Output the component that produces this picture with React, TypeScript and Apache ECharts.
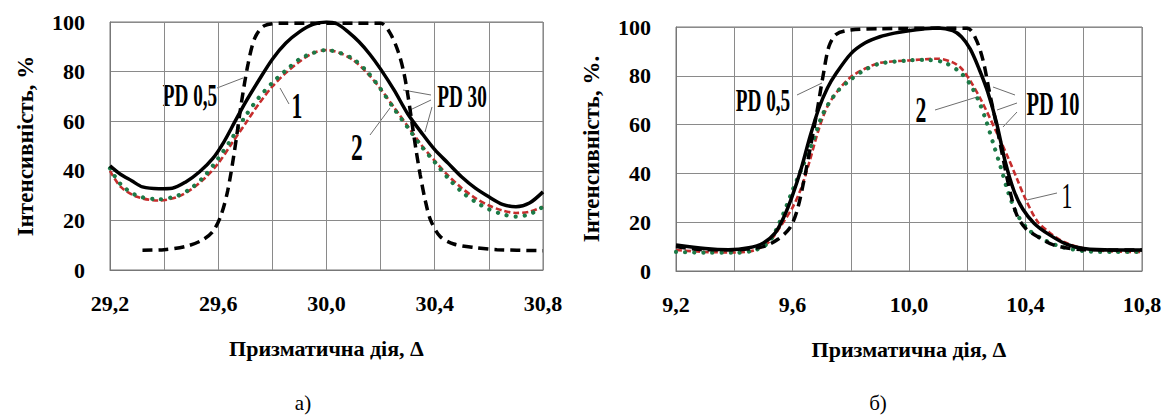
import React, { useEffect, useRef } from "react";
import * as echarts from "echarts";

const FONT = "Times";

// ---- panel а) : prism dioptre 29.2 … 30.8 ----
const aRange = [29.2, 30.8];
const aTickLabels = [29.2, 29.6, 30.0, 30.4, 30.8];

const aBlackSolid: [number, number][] = [
  [29.2, 42], [29.24, 38.5], [29.28, 36], [29.32, 33.5], [29.38, 32.8], [29.43, 33],
  [29.48, 35.5], [29.53, 39.5], [29.58, 45], [29.62, 51.5], [29.66, 59.5], [29.7, 67.5],
  [29.75, 76.5], [29.8, 85], [29.85, 91.5], [29.9, 96], [29.95, 99], [30.0, 100],
  [30.04, 99.2], [30.08, 96], [30.12, 92], [30.16, 87], [30.2, 81], [30.25, 72.5],
  [30.3, 63], [30.35, 55.5], [30.4, 48.5], [30.45, 43], [30.5, 37.5], [30.55, 33],
  [30.6, 29.5], [30.65, 26.5], [30.7, 25.5], [30.75, 27], [30.8, 31.5],
];

const aBlackDashed: [number, number][] = [
  [29.32, 8], [29.4, 8.2], [29.48, 9.5], [29.54, 12], [29.58, 15.5], [29.61, 22],
  [29.635, 32], [29.66, 48], [29.685, 67], [29.71, 83], [29.735, 93.5], [29.77, 98.5],
  [29.84, 99.5], [30.2, 99.5], [30.235, 95.5], [30.265, 88], [30.285, 80], [30.3, 71],
  [30.315, 60], [30.33, 49], [30.346, 38.5], [30.365, 28], [30.385, 20], [30.42, 13.5],
  [30.47, 10.5], [30.55, 9], [30.63, 8.2], [30.8, 7.8],
];

const aRedDashed: [number, number][] = [
  [29.2, 40], [29.24, 33.5], [29.3, 29.5], [29.38, 28], [29.45, 29.5], [29.5, 32.5],
  [29.55, 37], [29.6, 43], [29.65, 51], [29.7, 59], [29.75, 67], [29.8, 74],
  [29.85, 79.5], [29.9, 84], [29.95, 87.5], [30.0, 88.7], [30.05, 87.5], [30.1, 84.5],
  [30.15, 79.5], [30.2, 73], [30.25, 65.5], [30.3, 58], [30.35, 50.5], [30.4, 44],
  [30.45, 38], [30.5, 33], [30.55, 29], [30.6, 26], [30.65, 24], [30.7, 23],
  [30.75, 23.5], [30.8, 25.5],
];

const aGreenDotted: [number, number][] = [
  [29.2, 41], [29.24, 34.5], [29.3, 30], [29.38, 28.5], [29.45, 30], [29.5, 33],
  [29.55, 38], [29.6, 45], [29.65, 53], [29.7, 62], [29.75, 69.5], [29.8, 75.5],
  [29.85, 80.5], [29.9, 85], [29.95, 87.5], [30.0, 88.7], [30.05, 87.5], [30.1, 85],
  [30.15, 80], [30.2, 73], [30.25, 65], [30.3, 57.5], [30.35, 50], [30.4, 43.5],
  [30.45, 37], [30.5, 31.5], [30.55, 27.5], [30.6, 24.5], [30.65, 22.5], [30.7, 21.5],
  [30.75, 22.5], [30.8, 25.5],
];

// ---- panel б) : prism dioptre 9.2 … 10.8 ----
const bRange = [9.2, 10.8];
const bTickLabels = [9.2, 9.6, 10.0, 10.4, 10.8];

const bBlackSolid: [number, number][] = [
  [9.2, 10.7], [9.3, 9.2], [9.38, 8.7], [9.45, 9.5], [9.5, 11.5], [9.54, 15.5],
  [9.57, 22], [9.6, 31], [9.63, 42], [9.66, 55], [9.69, 66.5], [9.72, 75], [9.75, 81],
  [9.8, 89], [9.85, 93.5], [9.9, 96], [9.95, 97.5], [10.0, 98.5], [10.05, 99.2],
  [10.1, 99.6], [10.15, 98.5], [10.18, 96], [10.21, 91], [10.24, 83], [10.27, 73.5],
  [10.3, 61], [10.33, 45], [10.36, 33], [10.39, 25.5], [10.43, 19.5], [10.48, 15],
  [10.54, 11], [10.6, 9.2], [10.7, 8.6], [10.8, 8.6],
];

const bBlackDashed: [number, number][] = [
  [9.2, 10], [9.3, 8.7], [9.4, 8.7], [9.5, 10], [9.55, 13], [9.59, 17.5], [9.615, 24.5],
  [9.64, 37.5], [9.665, 53], [9.685, 66], [9.705, 80], [9.725, 92], [9.75, 97],
  [9.8, 98.8], [9.9, 99.3], [10.2, 99.5], [10.23, 95], [10.255, 86], [10.275, 74],
  [10.3, 60], [10.325, 45], [10.348, 32], [10.37, 23], [10.4, 17.5], [10.45, 13.5],
  [10.5, 10.5], [10.6, 8.7], [10.8, 8.6],
];

const bRedDashed: [number, number][] = [
  [9.2, 8.6], [9.3, 7.8], [9.4, 7.6], [9.47, 8.5], [9.52, 12], [9.56, 18.5], [9.6, 26],
  [9.63, 34], [9.66, 45.5], [9.69, 58], [9.72, 67.5], [9.76, 74.5], [9.8, 79.5],
  [9.85, 83], [9.9, 85.3], [10.0, 86.3], [10.1, 87], [10.15, 85.5], [10.18, 83],
  [10.21, 78], [10.25, 69.5], [10.3, 57], [10.34, 46.5], [10.37, 38], [10.4, 29.5],
  [10.44, 20.5], [10.48, 16], [10.53, 12], [10.6, 9.3], [10.7, 8], [10.8, 7.8],
];

const bGreenDotted: [number, number][] = [
  [9.2, 7.8], [9.3, 7.5], [9.4, 7.5], [9.47, 8.5], [9.52, 12], [9.567, 23], [9.6, 33],
  [9.637, 43.5], [9.67, 53], [9.705, 64.5], [9.75, 73], [9.8, 78.5], [9.85, 82.5],
  [9.9, 85], [10.0, 86.3], [10.06, 86.5], [10.12, 85.5], [10.175, 81.5], [10.21, 76.5],
  [10.24, 69.5], [10.265, 61.5], [10.29, 52], [10.315, 42.5], [10.34, 32.5],
  [10.37, 23.5], [10.41, 17], [10.46, 13], [10.52, 10], [10.6, 8.2], [10.7, 7.8],
  [10.8, 7.8],
];

const yTitleA = "Інтенсивність, %";
const yTitleB = "Інтенсивність, %.";
const xTitle = "Призматична дія, Δ";

const GRID_COLOR = "#8a8a8a";
const RED = "#c62d2d";
const GREEN = "#1c7a47";

const fmtTick = (ticks: number[]) => (v: number) =>
  ticks.some((t) => Math.abs(t - v) < 1e-6) ? v.toFixed(1).replace(".", ",") : "";

function xAxisFor(gridIndex: number, range: number[], ticks: number[]) {
  return {
    type: "value",
    gridIndex,
    min: range[0],
    max: range[1],
    interval: 0.2,
    name: xTitle,
    nameLocation: "middle",
    nameGap: 67,
    nameTextStyle: { fontFamily: FONT, fontWeight: "bold", fontSize: 22, color: "#000" },
    axisLine: { show: true, lineStyle: { color: "#777", width: 1 } },
    axisTick: { show: false },
    axisLabel: {
      formatter: fmtTick(ticks),
      margin: 22,
      fontFamily: FONT,
      fontWeight: "bold",
      fontSize: 22,
      color: "#000",
    },
    splitLine: { show: true, lineStyle: { color: GRID_COLOR, width: 1 } },
  };
}

function yAxisFor(gridIndex: number, title: string) {
  return {
    type: "value",
    gridIndex,
    min: 0,
    max: 100,
    interval: 20,
    name: title,
    nameLocation: "middle",
    nameGap: 73,
    nameRotate: 90,
    nameTextStyle: { fontFamily: FONT, fontWeight: "bold", fontSize: 23, color: "#000" },
    axisLine: { show: true, lineStyle: { color: "#777", width: 1 } },
    axisTick: { show: false },
    axisLabel: {
      margin: 25,
      fontFamily: FONT,
      fontWeight: "bold",
      fontSize: 22,
      color: "#000",
    },
    splitLine: { show: true, lineStyle: { color: GRID_COLOR, width: 1 } },
  };
}

function curves(idx: number, black: [number, number][], blackDash: [number, number][],
  red: [number, number][], green: [number, number][]) {
  const base = {
    type: "line",
    xAxisIndex: idx,
    yAxisIndex: idx,
    showSymbol: false,
    smooth: 0.3,
    silent: true,
  };
  return [
    { ...base, name: "red", data: red, lineStyle: { color: RED, width: 2.6, type: [6, 3] } },
    {
      ...base, name: "green", data: green,
      lineStyle: { color: GREEN, width: 4.2, type: [0.1, 9], cap: "round" },
    },
    { ...base, name: "solid", data: black, lineStyle: { color: "#000", width: 3.5 } },
    { ...base, name: "dashed", data: blackDash, lineStyle: { color: "#000", width: 3.5, type: [10, 6] } },
  ];
}

function label(text: string, x: number, y: number, size: number, bold = true) {
  return {
    type: "text",
    x,
    y,
    scaleX: 0.62,
    silent: true,
    style: {
      text,
      fontFamily: FONT,
      fontSize: size,
      fontWeight: bold ? "bold" : "normal",
      fill: "#000",
      align: "center",
      verticalAlign: "middle",
    },
  };
}

function leader(x1: number, y1: number, x2: number, y2: number) {
  return {
    type: "line",
    silent: true,
    shape: { x1, y1, x2, y2 },
    style: { stroke: "#6e6e6e", lineWidth: 1 },
  };
}

function caption(text: string, x: number, y: number) {
  return {
    type: "text",
    x,
    y,
    silent: true,
    style: {
      text,
      fontFamily: FONT,
      fontSize: 21,
      fill: "#000",
      align: "center",
      verticalAlign: "middle",
    },
  };
}

export default function App() {
  const ref = useRef<HTMLDivElement>(null);

  useEffect(() => {
    if (!ref.current) return;
    const chart = echarts.init(ref.current, null, { renderer: "svg" });
    chart.setOption({
      animation: false,
      backgroundColor: "#fff",
      grid: [
        { left: 110, top: 22, width: 433, height: 248, show: true, borderColor: "#777", borderWidth: 1 },
        { left: 676, top: 27, width: 466, height: 244, show: true, borderColor: "#777", borderWidth: 1 },
      ],
      xAxis: [xAxisFor(0, aRange, aTickLabels), xAxisFor(1, bRange, bTickLabels)],
      yAxis: [yAxisFor(0, yTitleA), yAxisFor(1, yTitleB)],
      series: [
        ...curves(0, aBlackSolid, aBlackDashed, aRedDashed, aGreenDotted),
        ...curves(1, bBlackSolid, bBlackDashed, bRedDashed, bGreenDotted),
      ],
      graphic: [
        // panel а) callouts
        label("PD 0,5", 190, 96, 31),
        leader(217, 88, 243, 78),
        label("1", 297, 106, 35),
        leader(280, 88, 289, 104),
        label("PD 30", 462, 97, 31),
        leader(431, 95, 403, 90),
        leader(431, 100, 410, 110),
        leader(432, 107, 425, 132),
        label("2", 357, 147, 38),
        leader(370, 135, 390, 108),
        // panel б) callouts
        label("PD 0,5", 763, 101, 31),
        leader(797, 95, 822, 83),
        label("PD 10", 1053, 104, 33),
        leader(1015, 95, 993, 87),
        leader(1017, 103, 997, 110),
        leader(1017, 112, 1003, 127),
        label("2", 921, 110, 35),
        leader(935, 110, 977, 97),
        label("1", 1067, 196, 35, false),
        leader(1057, 193, 1027, 200),
        // panel captions
        caption("а)", 303, 403),
        caption("б)", 878, 403),
      ],
    });
    return () => chart.dispose();
  }, []);

  return (
    <div
      ref={ref}
      style={{ position: "absolute", left: 0, top: 0, width: 1172, height: 415, background: "#fff" }}
    />
  );
}
